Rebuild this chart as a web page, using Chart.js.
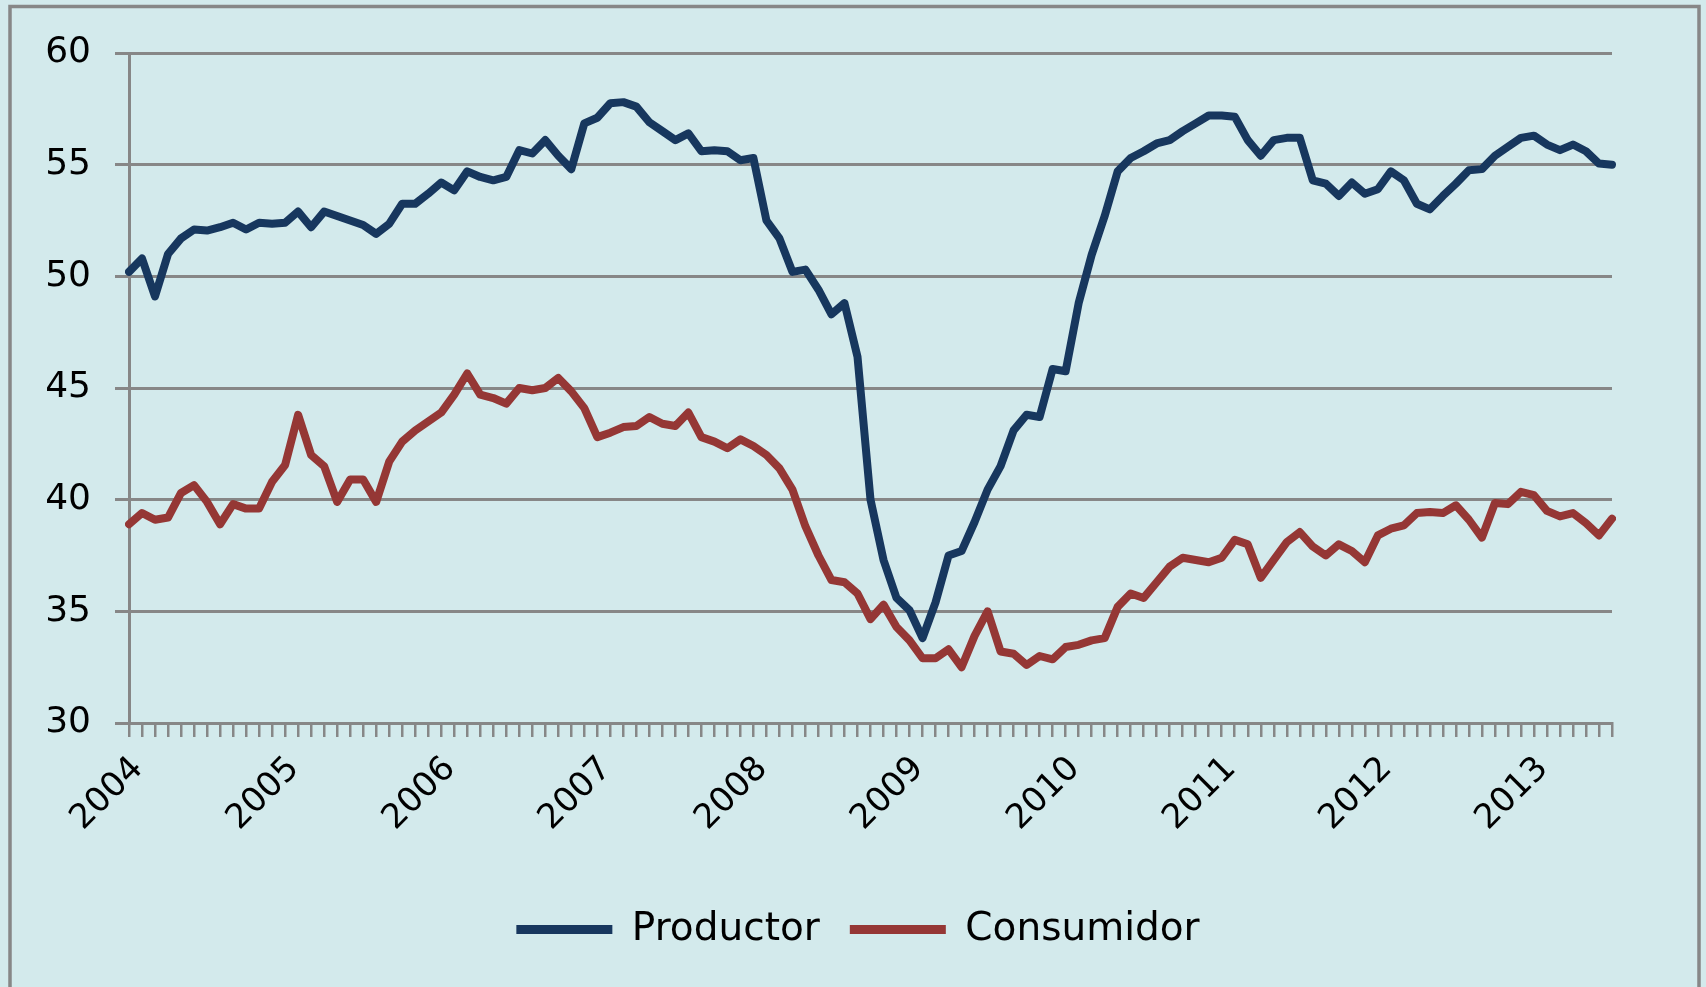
<!DOCTYPE html>
<html>
<head>
<meta charset="utf-8">
<script src="https://cdn.jsdelivr.net/npm/chart.js@4.4.1/dist/chart.umd.min.js"></script>
<style>
  html, body { margin: 0; padding: 0; background: #D3EAEC; }
  #wrap { width: 1706px; height: 987px; }
</style>
</head>
<body>
<div id="wrap"><canvas id="c" width="1706" height="987"></canvas></div>
<script>
// Year tick labels (one per January)
const years = ['2004','2005','2006','2007','2008','2009','2010','2011','2012','2013'];

// Monthly values, Jan 2004 .. Jul 2013
const productor = [
  50.2, 50.8, 49.1, 51.0, 51.7, 52.1, 52.05, 52.2, 52.4, 52.1, 52.4, 52.35,
  52.4, 52.9, 52.2, 52.9, 52.7, 52.5, 52.3, 51.9, 52.35, 53.25, 53.25, 53.7,
  54.2, 53.85, 54.7, 54.45, 54.3, 54.45, 55.65, 55.5, 56.1, 55.4, 54.8, 56.85,
  57.1, 57.75, 57.8, 57.6, 56.9, 56.5, 56.1, 56.4, 55.6, 55.65, 55.6, 55.2,
  55.3, 52.5, 51.7, 50.2, 50.3, 49.4, 48.3, 48.8, 46.4, 40.0, 37.3, 35.6,
  35.05, 33.8, 35.4, 37.5, 37.7, 39.0, 40.45, 41.5, 43.1, 43.8, 43.7, 45.85,
  45.75, 48.8, 50.96, 52.7, 54.7, 55.3, 55.6, 55.95, 56.1, 56.5, 56.85, 57.2,
  57.2, 57.15, 56.1, 55.4, 56.1, 56.2, 56.2, 54.3, 54.15, 53.6, 54.2, 53.7,
  53.9, 54.7, 54.3, 53.25, 53.0, 53.6, 54.15, 54.75, 54.8, 55.4, 55.8, 56.2,
  56.3, 55.9, 55.65, 55.9, 55.6, 55.05, 55.0
];
const consumidor = [
  38.9, 39.4, 39.1, 39.2, 40.3, 40.65, 39.9, 38.9, 39.8, 39.6, 39.6, 40.8,
  41.55, 43.8, 42.0, 41.5, 39.9, 40.9, 40.9, 39.9, 41.7, 42.6, 43.1, 43.5,
  43.9, 44.7, 45.65, 44.7, 44.55, 44.3, 45.0, 44.9, 45.0, 45.45, 44.85, 44.1,
  42.8, 43.0, 43.25, 43.3, 43.7, 43.4, 43.3, 43.9, 42.8, 42.6, 42.3, 42.7,
  42.4, 42.0, 41.4, 40.45, 38.8, 37.5, 36.4, 36.3, 35.8, 34.65, 35.3, 34.3,
  33.7, 32.9, 32.9, 33.3, 32.5, 33.9, 35.0, 33.2, 33.1, 32.6, 33.0, 32.85,
  33.4, 33.5, 33.7, 33.8, 35.2, 35.8, 35.6, 36.3, 37.0, 37.4, 37.3, 37.2,
  37.4, 38.2, 38.0, 36.5, 37.3, 38.1, 38.55, 37.9, 37.5, 38.0, 37.7, 37.2,
  38.4, 38.7, 38.85, 39.4, 39.45, 39.4, 39.75, 39.1, 38.3, 39.85, 39.8, 40.35,
  40.2, 39.5, 39.25, 39.4, 38.95, 38.4, 39.15
];
const seriesNames = ['Productor', 'Consumidor'];

const categories = productor.map((_, i) => years[Math.floor(i / 12)] + '-' + String(i % 12 + 1).padStart(2, '0'));

const FONT = "'DejaVu Sans', Verdana, sans-serif";
const GRID = '#878787';

const frame = {
  id: 'frame',
  beforeDraw(chart) {
    const ctx = chart.ctx;
    ctx.save();
    ctx.fillStyle = '#D3EAEC';
    ctx.fillRect(0, 0, chart.width, chart.height);
    ctx.strokeStyle = GRID;
    ctx.lineWidth = 3.5;
    ctx.beginPath();
    ctx.moveTo(10, chart.height + 10);
    ctx.lineTo(10, 6.5);
    ctx.lineTo(1699, 6.5);
    ctx.lineTo(1699, chart.height + 10);
    ctx.stroke();
    ctx.restore();
  }
};

// centre the legend on the whole chart rather than on the padded layout box
const legendShift = {
  id: 'legendShift',
  afterLayout(chart) {
    if (chart.legend) {
      chart.legend.left += 52;
      chart.legend.right += 52;
    }
  }
};

new Chart(document.getElementById('c'), {
  type: 'line',
  data: {
    labels: categories,
    datasets: [
      { label: seriesNames[0], data: productor, borderColor: '#17375E', backgroundColor: '#17375E',
        borderWidth: 8, pointRadius: 0, tension: 0, borderJoinStyle: 'round', borderCapStyle: 'round' },
      { label: seriesNames[1], data: consumidor, borderColor: '#953735', backgroundColor: '#953735',
        borderWidth: 8, pointRadius: 0, tension: 0, borderJoinStyle: 'round', borderCapStyle: 'round' }
    ]
  },
  options: {
    responsive: false,
    animation: false,
    devicePixelRatio: 1,
    layout: { padding: { top: 53, right: 94, bottom: 28, left: 0 } },
    plugins: {
      tooltip: { enabled: false },
      legend: {
        position: 'bottom',
        labels: {
          boxWidth: 96,
          boxHeight: 9,
          padding: 30,
          color: '#000',
          font: { size: 39, family: FONT },
          generateLabels(chart) {
            const items = Chart.defaults.plugins.legend.labels.generateLabels(chart);
            items.forEach(it => { it.lineWidth = 0; });
            return items;
          }
        }
      }
    },
    scales: {
      x: {
        type: 'category',
        offset: false,
        grid: { display: true, drawOnChartArea: false, drawTicks: true, tickLength: 14, color: GRID, lineWidth: 2.5 },
        border: { display: true, color: GRID, width: 3 },
        ticks: {
          autoSkip: false,
          maxRotation: 45,
          minRotation: 45,
          padding: 12,
          labelOffset: 9,
          color: '#000',
          font: { size: 34, family: FONT },
          callback: (v, i) => (i % 12 === 0 ? years[i / 12] : '')
        },
        afterFit(s) { s.height = 157; }
      },
      y: {
        min: 30,
        max: 60,
        ticks: { stepSize: 5, padding: 24, color: '#000', font: { size: 36, family: FONT } },
        grid: { color: GRID, lineWidth: 3, tickLength: 14, drawTicks: true },
        border: { display: true, color: GRID, width: 3 },
        afterFit(s) { s.width = 129; }
      }
    }
  },
  plugins: [frame, legendShift]
});
</script>
</body>
</html>
